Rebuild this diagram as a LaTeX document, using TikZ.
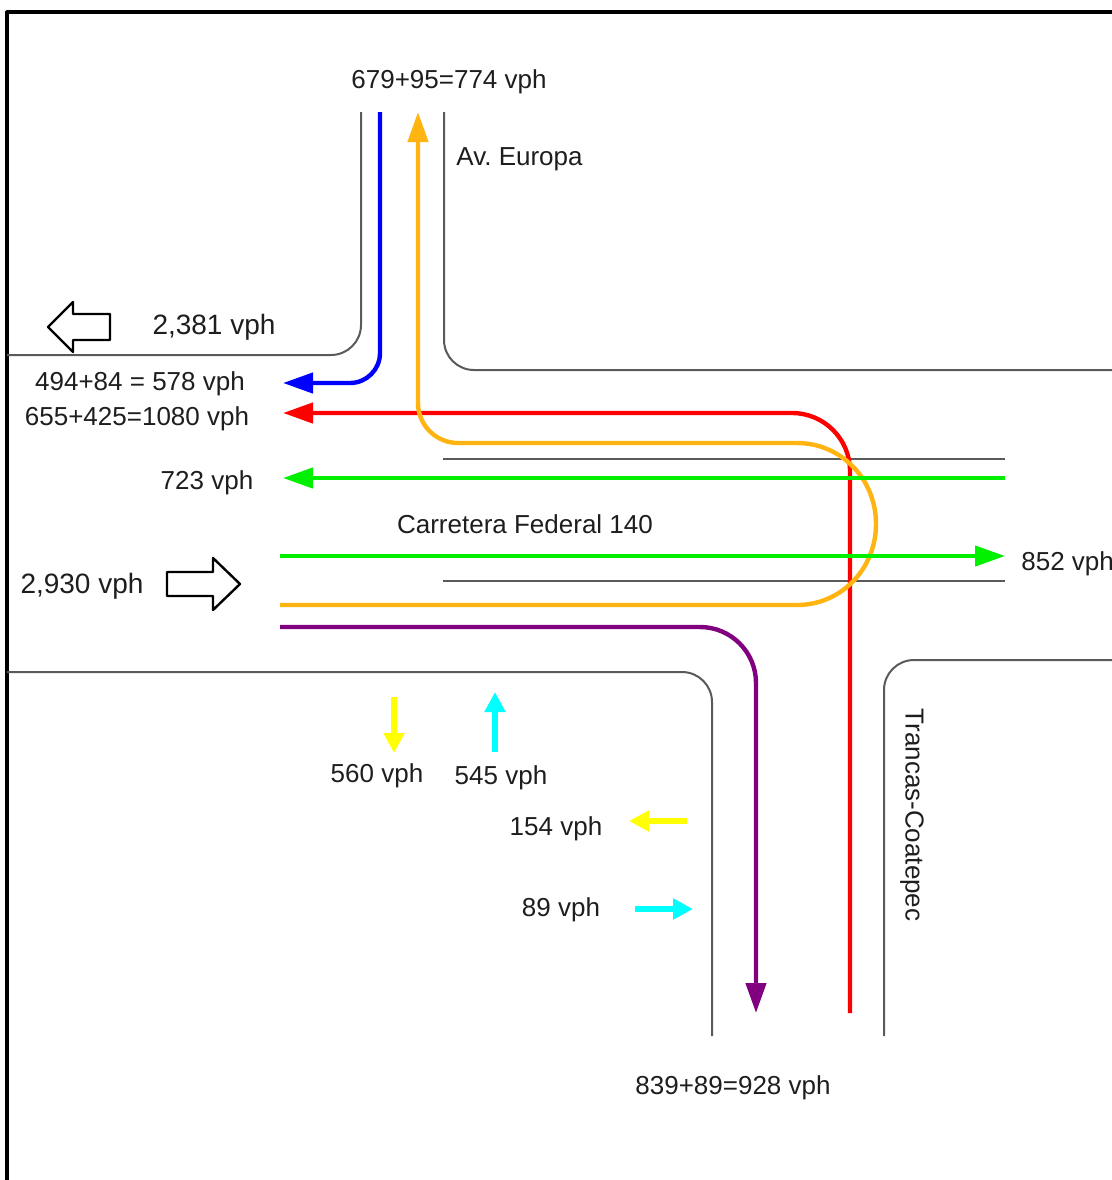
\documentclass[tikz,border=0pt]{standalone}
\usepackage{fontspec}
\setmainfont{Liberation Sans}
\usetikzlibrary{arrows.meta}

\definecolor{flowblue}{RGB}{0,0,255}
\definecolor{flowred}{RGB}{255,0,0}
\definecolor{flowgreen}{RGB}{0,240,0}
\definecolor{floworange}{RGB}{255,180,18}
\definecolor{flowpurple}{RGB}{128,0,128}
\definecolor{flowyellow}{RGB}{255,255,0}
\definecolor{flowcyan}{RGB}{0,255,255}
\definecolor{roadgray}{RGB}{90,90,90}
\definecolor{labeltext}{RGB}{30,30,30}

\begin{document}
\begin{tikzpicture}[x=0.5pt, y=-0.5pt, line join=round,
    road/.style={draw=roadgray, line width=1pt, rounded corners=15pt},
    flow/.style={line width=2.2pt, -{Triangle[length=15pt, width=10pt]}},
    small/.style={line width=3.2pt, -{Triangle[length=10pt, width=10pt]}},
    block/.style={draw=black, line width=1.2pt, fill=white},
    lbl/.style={text=labeltext, font=\fontsize{13}{15}\selectfont, inner sep=0pt},
    biglbl/.style={text=labeltext, font=\fontsize{14}{16}\selectfont, inner sep=0pt}]
  \useasboundingbox (0,0) rectangle (1112,1180);
  \fill[white] (0,0) rectangle (1112,1180);
  \draw[line width=1.6pt] (7,1200) -- (7,12) -- (1130,12);

  % road edges
  \draw[road] (361,112) -- (361,355) -- (7,355);
  \draw[road] (444,112) -- (444,370) -- (1120,370);
  \draw[road] (7,672) -- (712,672) -- (712,1036);
  \draw[road] (884,1036) -- (884,660) -- (1120,660);
  \draw[draw=roadgray, line width=1pt] (443,459) -- (1005,459);
  \draw[draw=roadgray, line width=1pt] (443,581) -- (1005,581);

  % turning movements
  \draw[flow, flowblue, rounded corners=15pt] (380,112) -- (380,383) -- (283,383);
  \draw[flow, flowred, rounded corners=29pt] (850,1013) -- (850,413) -- (283,413);
  \draw[flow, floworange] (280,605) -- (797,605)
    .. controls (841,605) and (876,569) .. (876,524)
    .. controls (876,479) and (841,443) .. (797,443) -- (458,443)
    .. controls (436,443) and (418,425) .. (418,403) -- (418,112);
  \draw[flow, flowgreen] (1005,478) -- (283,478);
  \draw[flow, flowgreen] (280,556) -- (1005,556);
  \draw[flow, flowpurple, rounded corners=28pt] (280,627) -- (756,627) -- (756,1013);

  % pedestrian / minor arrows
  \draw[small, flowyellow] (394,697) -- (394,753);
  \draw[small, flowcyan] (495,752) -- (495,692);
  \draw[small, flowyellow] (687,821) -- (629,821);
  \draw[small, flowcyan] (635,909) -- (693,909);

  % totals
  \draw[block] (48,327) -- (73,302) -- (73,314) -- (110,314) -- (110,340)
    -- (73,340) -- (73,352) -- cycle;
  \draw[block] (167,572) -- (213,572) -- (213,558) -- (240,584) -- (213,610)
    -- (213,596) -- (167,596) -- cycle;

  \node[lbl] (northin) at (449,82) {679+95=774 vph};
  \node[lbl, anchor=west] (europa) at (456,159) {Av.\ Europa};
  \node[biglbl] (westout) at (214,327) {2,381 vph};
  \node[lbl] (blueout) at (140,384) {494+84 = 578 vph};
  \node[lbl] (redout) at (137,419) {655+425=1080 vph};
  \node[lbl] (greenout) at (207,483) {723 vph};
  \node[lbl] (federal) at (525,524) {Carretera Federal 140};
  \node[lbl, anchor=west] (eastout) at (1021,564) {852 vph};
  \node[biglbl] (westin) at (82,586) {2,930 vph};
  \node[lbl] (peddown) at (377,776) {560 vph};
  \node[lbl] (pedup) at (501,778) {545 vph};
  \node[lbl] (pedleft) at (556,829) {154 vph};
  \node[lbl] (pedright) at (561,910) {89 vph};
  \node[lbl, rotate=-90] (trancas) at (912,815) {Trancas-Coatepec};
  \node[lbl] (southout) at (733,1088) {839+89=928 vph};
\end{tikzpicture}
\end{document}
